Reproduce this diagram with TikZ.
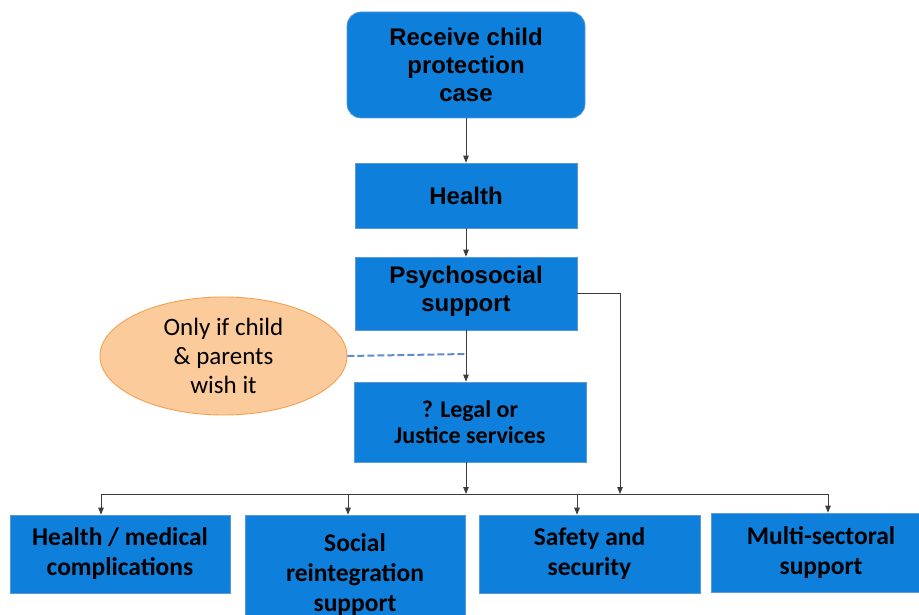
\documentclass[tikz,border=0pt]{standalone}
\usepackage{fontspec}
\setmainfont{Liberation Sans}
\newfontfamily\calfont{Carlito}
\usetikzlibrary{shapes.geometric,arrows.meta}
\definecolor{boxblue}{RGB}{14,128,220}
\definecolor{boxedge}{RGB}{90,155,215}
\definecolor{ellfill}{RGB}{251,203,155}
\definecolor{elledge}{RGB}{245,160,80}
\definecolor{dashblue}{RGB}{95,140,205}
\definecolor{linegray}{RGB}{60,60,60}
\tikzset{
  boxA/.style={draw=boxedge, fill=boxblue, line width=0.7pt, inner sep=0pt, align=center,
    font=\bfseries\fontsize{24}{28}\selectfont},
  boxB/.style={draw=boxedge, fill=boxblue, line width=0.7pt, inner sep=0pt, align=center,
    font=\calfont\bfseries\fontsize{25.5}{30}\selectfont},
  conn/.style={draw=linegray, line width=0.9pt, -{Triangle[length=7pt,width=5.5pt]}},
  plain/.style={draw=linegray, line width=0.9pt},
}
\begin{document}
\begin{tikzpicture}[x=1pt,y=-1pt]
\path[use as bounding box, clip] (0,0) rectangle (919,615);
\node[boxA, rounded corners=14pt, minimum width=238pt, minimum height=106pt] (top) at (466,65) {Receive child\\protection\\case};
\node[boxA, minimum width=222pt, minimum height=65pt] (health) at (466,195.5) {Health};
\node[boxA, minimum width=222pt, minimum height=73pt] (psych) at (466,293.5) {Psychosocial\\support\\[-18pt]};
\node[draw=elledge, fill=ellfill, line width=0.9pt, ellipse, minimum width=247pt, minimum height=118pt, inner sep=0pt, align=center,
  font=\calfont\fontsize{25}{29}\selectfont] (cond) at (223.5,356) {Only if child\\\& parents\\wish it};
\node[boxB, font=\calfont\bfseries\fontsize{24}{26}\selectfont, minimum width=232pt, minimum height=80pt] (legal) at (470,422) {? Legal or\\Justice services};
\node[boxB, minimum width=220pt, minimum height=78pt] (b1) at (120,554) {Health / medical\\complications};
\node[boxB, minimum width=220pt, minimum height=120pt] (b2) at (355,575) {Social\\reintegration\\support};
\node[boxB, minimum width=221pt, minimum height=78pt] (b3) at (589.5,554) {Safety and\\security};
\node[boxB, minimum width=220pt, minimum height=79pt] (b4) at (821,552.5) {Multi-sectoral\\support};

\coordinate (busL) at (101,494);
\coordinate (bus2) at (348,494);
\coordinate (bus3) at (577,494);
\coordinate (busE) at (828,494);
\coordinate (busM) at (466,494);
\coordinate (busR) at (620,494);
\coordinate (dashend) at (466,354);

\draw[conn] (top.south) -- (health.north);
\draw[conn] (health.south) -- (psych.north);
\draw[conn] (psych.south) -- (psych.south |- legal.north);
\draw[conn] (psych.south |- legal.south) -- (busM);
\draw[conn] (psych.east) -| (busR);
\draw[plain] (busL) -- (busE);
\draw[conn] (busL) -- (busL |- b1.north);
\draw[conn] (bus2) -- (bus2 |- b2.north);
\draw[conn] (bus3) -- (bus3 |- b3.north);
\draw[conn] (busE) -- (busE |- b4.north);
\draw[draw=dashblue, line width=2pt, dash pattern=on 7pt off 3pt] (cond.east) -- (dashend);
\end{tikzpicture}
\end{document}
